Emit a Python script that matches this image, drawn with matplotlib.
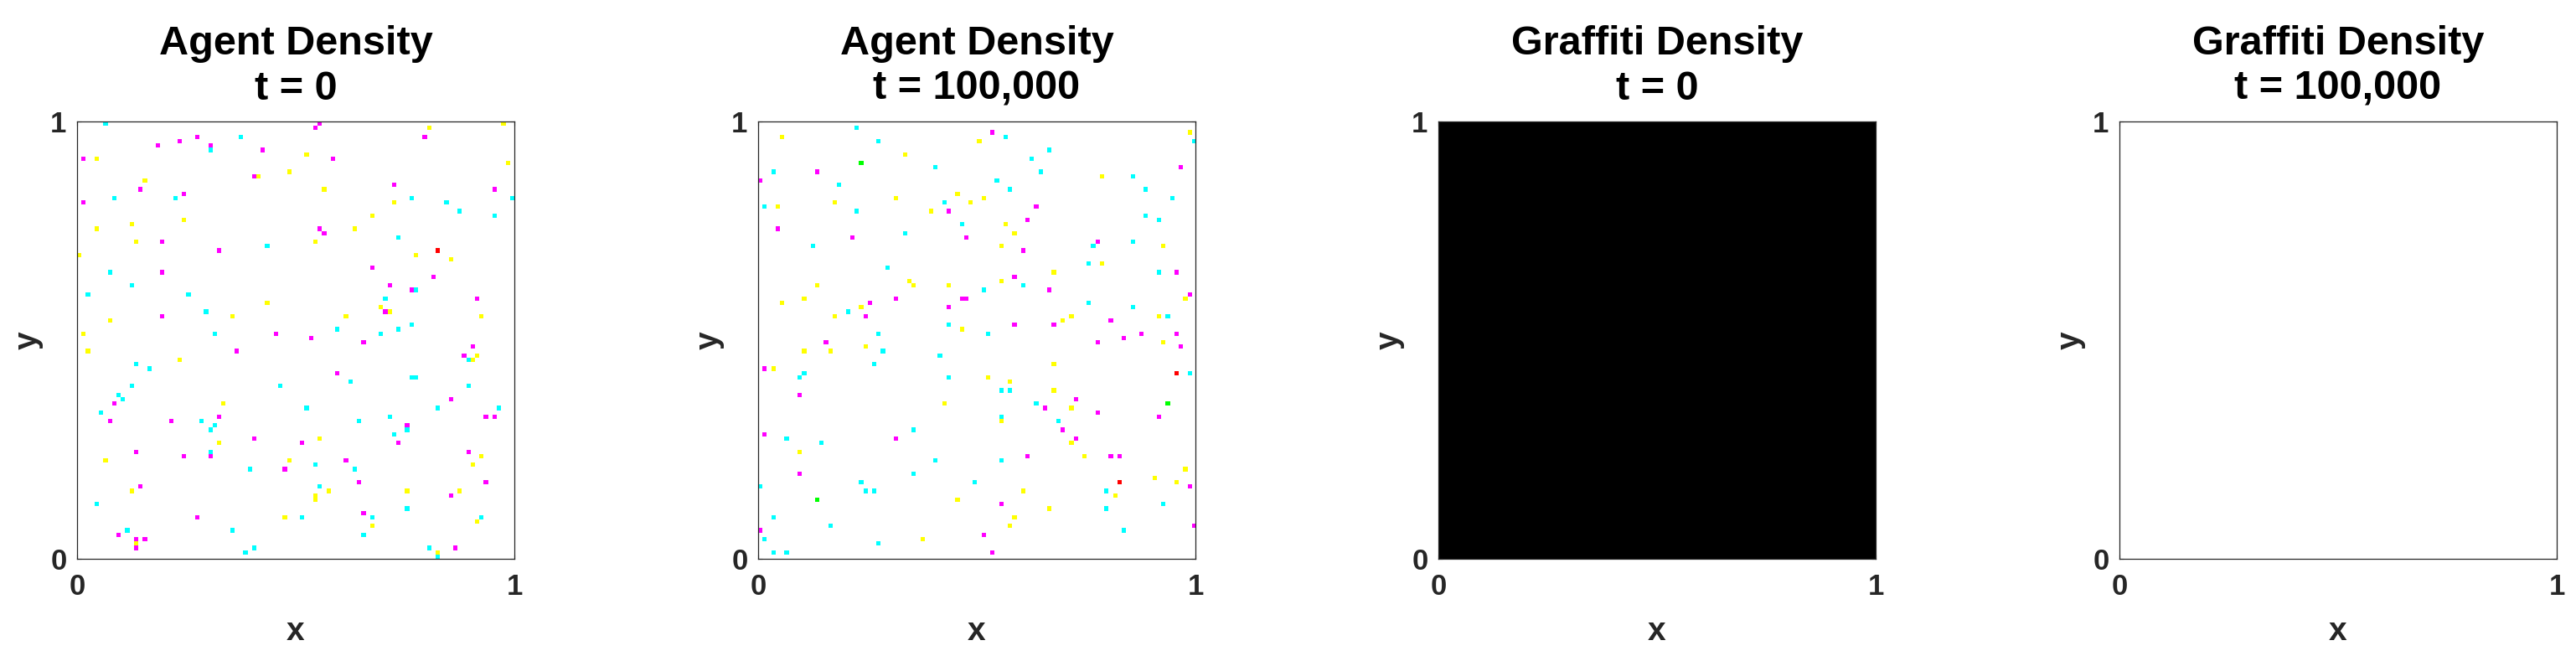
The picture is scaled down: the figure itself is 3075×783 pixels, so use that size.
import numpy as np
import matplotlib.pyplot as plt

plt.rcParams['font.family'] = ['Liberation Sans', 'DejaVu Sans']
plt.rcParams['font.weight'] = 'bold'
plt.rcParams['axes.labelweight'] = 'bold'

N = 100  # grid cells per side

# agent cells (col, row from bottom), t = 0
t0_cyan = [(6,99),(37,96),(30,93),(8,82),(22,82),(76,82),(99,82),(84,81),(87,79),(95,78),
           (73,73),(43,71),(7,65),(12,62),(2,60),(25,60),(77,61),(70,59),(29,56),(76,53),
           (31,51),(59,52),(69,51),(73,52),(89,45),(13,44),(16,43),(76,41),(77,41),(62,40),
           (12,39),(46,39),(89,39),(9,37),(10,36),(52,34),(82,34),(96,34),(5,33),(71,32),
           (28,31),(64,31),(31,30),(30,29),(75,29),(72,28),(30,24),(54,21),(39,20),(63,20),
           (55,16),(4,12),(75,11),(51,9),(67,9),(92,9),(11,6),(35,6),(65,5),(40,2),
           (80,2),(38,1),(82,0)]
t0_magenta = [(55,99),(54,98),(27,96),(79,96),(23,95),(18,94),(30,94),(42,93),(1,91),(58,91),
              (40,87),(72,85),(14,84),(95,84),(24,83),(1,81),(55,75),(56,74),(19,72),(32,70),
              (67,66),(19,65),(81,64),(71,62),(76,61),(91,59),(70,56),(19,55),(45,51),(53,50),
              (65,49),(90,48),(36,47),(88,46),(59,42),(85,36),(8,35),(32,32),(93,32),(95,32),
              (7,31),(21,31),(75,30),(40,27),(51,26),(73,26),(13,24),(89,24),(24,23),(30,23),
              (61,22),(47,20),(64,17),(93,17),(14,16),(85,14),(65,10),(27,9),(9,5),(13,4),
              (15,4),(13,2),(86,2)]
t0_yellow = [(97,99),(80,98),(4,91),(52,92),(98,90),(48,88),(41,87),(15,86),(56,84),(72,81),
             (67,78),(24,77),(12,76),(4,75),(63,75),(13,72),(54,72),(0,69),(77,69),(85,68),
             (43,58),(69,57),(71,56),(35,55),(61,55),(92,55),(7,54),(1,51),(2,47),(91,46),
             (90,45),(23,45),(33,35),(55,27),(32,26),(92,23),(6,22),(48,22),(90,21),(12,15),
             (57,15),(75,15),(87,15),(54,14),(54,13),(47,9),(67,7),(91,8),(13,3),(82,1)]
t0_red = [(82,70)]
t0_green = []

# agent cells, t = 100,000
t1_cyan = [(22,98),(56,96),(27,95),(99,95),(66,93),(62,91),(40,89),(3,88),(64,88),(85,87),
           (54,86),(18,85),(57,84),(88,84),(94,82),(42,81),(1,80),(22,79),(88,78),(91,77),
           (46,76),(33,74),(85,72),(12,71),(76,71),(29,66),(75,67),(91,65),(60,62),(51,61),
           (75,58),(85,57),(20,56),(93,55),(43,53),(27,51),(52,51),(28,47),(41,46),(26,44),
           (10,42),(98,42),(9,41),(43,41),(55,38),(57,38),(63,35),(55,32),(68,31),(35,29),
           (6,27),(14,26),(40,22),(55,22),(35,19),(23,17),(49,17),(0,16),(24,15),(26,15),
           (79,15),(92,12),(79,11),(3,9),(16,7),(83,6),(1,4),(27,3),(3,1),(6,1)]
t1_magenta = [(53,97),(96,89),(13,88),(0,86),(63,80),(43,79),(61,77),(4,75),(21,73),(47,73),
              (77,72),(60,70),(95,65),(58,64),(66,61),(98,60),(31,59),(46,59),(47,59),(25,58),
              (43,57),(24,55),(80,54),(58,53),(67,53),(87,51),(95,51),(83,50),(15,49),(77,49),
              (96,48),(1,43),(9,37),(72,36),(65,34),(77,33),(91,32),(69,29),(1,28),(31,27),
              (72,27),(61,23),(80,23),(82,23),(9,19),(98,16),(55,12),(99,7),(0,6),(51,5),
              (53,1)]
t1_yellow = [(98,97),(5,96),(50,95),(33,92),(78,87),(45,83),(31,82),(51,82),(17,81),(48,81),
             (4,80),(39,79),(56,76),(58,74),(55,71),(92,71),(78,67),(67,65),(34,63),(55,63),
             (13,62),(35,62),(43,62),(10,59),(97,59),(5,58),(23,57),(17,55),(71,55),(91,55),
             (69,54),(46,52),(92,49),(24,48),(10,47),(16,47),(67,44),(3,43),(52,41),(57,40),
             (67,38),(42,35),(71,34),(55,31),(71,26),(9,24),(74,23),(97,20),(90,18),(95,17),
             (60,15),(81,14),(45,13),(66,11),(58,9),(57,7),(37,4)]
t1_red = [(95,42),(82,17)]
t1_green = [(23,90),(93,35),(13,13)]

# graffiti density (1 = full)
graffiti_t0 = np.ones((N, N))
graffiti_t1 = np.zeros((N, N))

titles = ['Agent Density\nt = 0', 'Agent Density\nt = 100,000',
          'Graffiti Density\nt = 0', 'Graffiti Density\nt = 100,000']

CYAN, MAGENTA, YELLOW, RED, GREEN = (0,1,1), (1,0,1), (1,1,0), (1,0,0), (0,1,0)


def agent_image(cyan, magenta, yellow, red, green):
    img = np.ones((N, N, 3))
    for cells, rgb in [(cyan, CYAN), (magenta, MAGENTA), (yellow, YELLOW),
                       (red, RED), (green, GREEN)]:
        for c, r in cells:
            img[r, c] = rgb
    return img


fig = plt.figure(figsize=(30.75, 7.83), dpi=100)
lefts = [92, 905, 1717, 2530]
W, H = 3075.0, 783.0
axes = [fig.add_axes([l / W, 116 / H, 522 / W, 522 / H]) for l in lefts]

images = [agent_image(t0_cyan, t0_magenta, t0_yellow, t0_red, t0_green),
          agent_image(t1_cyan, t1_magenta, t1_yellow, t1_red, t1_green)]
for ax, img in zip(axes[:2], images):
    ax.imshow(img, origin='lower', extent=(0, 1, 0, 1), interpolation='nearest', aspect='auto')
for ax, g in zip(axes[2:], [graffiti_t0, graffiti_t1]):
    ax.imshow(g, origin='lower', extent=(0, 1, 0, 1), cmap='gray_r', vmin=0, vmax=1,
              interpolation='nearest', aspect='auto')

dark = '#262626'
for ax, t in zip(axes, titles):
    ax.set_xlim(0, 1)
    ax.set_ylim(0, 1)
    ax.set_xticks([0, 1])
    ax.set_yticks([0, 1])
    ax.set_xticklabels(['0', '1'], fontweight='bold')
    ax.set_yticklabels(['0', '1'], fontweight='bold')
    ax.tick_params(direction='in', length=3.6, width=0.8, top=True, right=True,
                   labelsize=25, colors=dark)
    ax.tick_params(axis='x', pad=12)
    ax.tick_params(axis='y', pad=9)
    for s in ax.spines.values():
        s.set_color(dark)
        s.set_linewidth(0.9)
    ax.set_title(t, fontsize=35, fontweight='bold', color='black', pad=19, linespacing=1.25)
    ax.set_xlabel('x', fontsize=28, fontweight='bold', color=dark, labelpad=14)
    ax.set_ylabel('y', fontsize=28, fontweight='bold', color=dark, labelpad=6)

fig.savefig('out.png', dpi=100)
